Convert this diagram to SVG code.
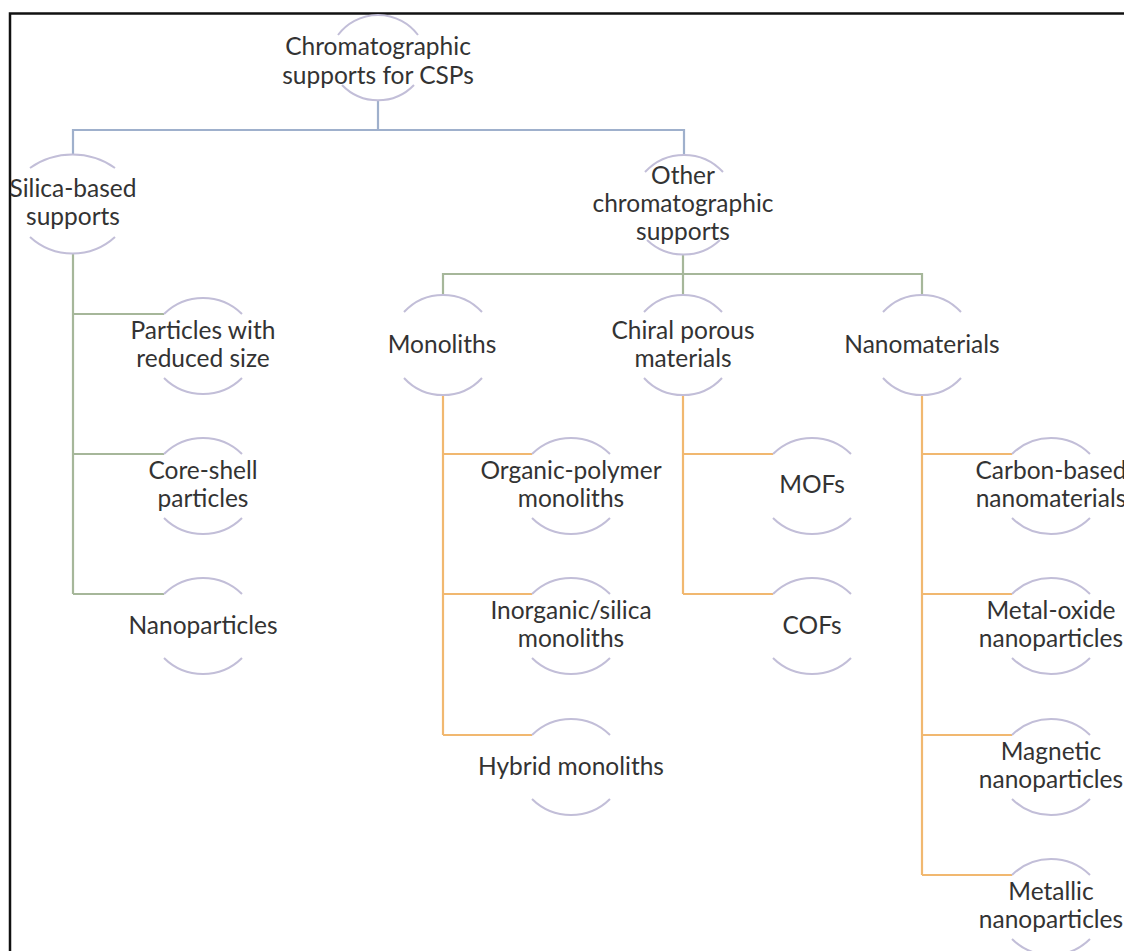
<svg xmlns="http://www.w3.org/2000/svg" width="1124" height="951" viewBox="0 0 1124 951">
<style>
.t{font-family:Lato,"Open Sans","Liberation Sans",sans-serif;font-size:24.5px;fill:#333333;text-anchor:middle}
.arc{fill:none;stroke:#c2bed8;stroke-width:2}
.cb{fill:none;stroke:#9fb0cc;stroke-width:2.2}
.cg{fill:none;stroke:#a6b79a;stroke-width:2.2}
.co{fill:none;stroke:#f1b870;stroke-width:2.2}
</style>
<rect width="1124" height="951" fill="#ffffff"/>
<path d="M10,951 V13.5 H1124" fill="none" stroke="#111" stroke-width="2.5"/>
<g id="connectors">
<path class="cb" d="M378,100 V130 M73,155 V130 H684 V155"/>
<path class="cg" d="M73,253 V594 M73,314 H164 M73,454 H164 M73,594 H164"/>
<path class="cg" d="M683,255 V295 M443,295 V274 H922 V295"/>
<path class="co" d="M443,395 V735 M443,454 H532 M443,594 H532 M443,735 H532"/>
<path class="co" d="M683,395 V594 M683,454 H773 M683,594 H773"/>
<path class="co" d="M922,395 V875 M922,454 H1012 M922,594 H1012 M922,735 H1012 M922,875 H1012"/>
</g>
<g id="root">
<path class="arc" d="M338,35 A50,50 0 0 1 418,35 M342,85 A50,50 0 0 0 414,85"/>
<text class="t"><tspan x="378" y="55">Chromatographic</tspan><tspan x="378" y="84">supports for CSPs</tspan></text>
</g>
<g id="silica">
<path class="arc" d="M30,168 A74,74 0 0 1 115,168 M30,237 A63,63 0 0 0 115,237"/>
<text class="t"><tspan x="73" y="197">Silica-based</tspan><tspan x="73" y="225">supports</tspan></text>
</g>
<g id="other">
<path class="arc" d="M645,172 A53,53 0 0 1 723,172 M647,240 A53,53 0 0 0 720,240"/>
<text class="t"><tspan x="683" y="184">Other</tspan><tspan x="683" y="212">chromatographic</tspan><tspan x="683" y="240">supports</tspan></text>
</g>
<g id="particles">
<path class="arc" d="M164,314 A55.5,55.5 0 0 1 242,314 M164,378 A55.5,55.5 0 0 0 242,378"/>
<text class="t"><tspan x="203" y="339">Particles with</tspan><tspan x="203" y="367">reduced size</tspan></text>
</g>
<g id="coreshell">
<path class="arc" d="M164,454 A55.5,55.5 0 0 1 242,454 M164,518 A55.5,55.5 0 0 0 242,518"/>
<text class="t"><tspan x="203" y="479">Core-shell</tspan><tspan x="203" y="507">particles</tspan></text>
</g>
<g id="nanoparticles">
<path class="arc" d="M164,594 A55.5,55.5 0 0 1 242,594 M164,658 A55.5,55.5 0 0 0 242,658"/>
<text class="t" x="203" y="634">Nanoparticles</text>
</g>
<g id="monoliths">
<path class="arc" d="M404,312 A53,53 0 0 1 482,312 M404,378 A53,53 0 0 0 482,378"/>
<text class="t" x="442" y="353">Monoliths</text>
</g>
<g id="chiral">
<path class="arc" d="M644,312 A53,53 0 0 1 722,312 M644,378 A53,53 0 0 0 722,378"/>
<text class="t"><tspan x="683" y="339">Chiral porous</tspan><tspan x="683" y="367">materials</tspan></text>
</g>
<g id="nanomaterials">
<path class="arc" d="M883,312 A53,53 0 0 1 961,312 M883,378 A53,53 0 0 0 961,378"/>
<text class="t" x="922" y="353">Nanomaterials</text>
</g>
<g id="organic">
<path class="arc" d="M532,454 A55.5,55.5 0 0 1 610,454 M532,518 A55.5,55.5 0 0 0 610,518"/>
<text class="t"><tspan x="571" y="479">Organic-polymer</tspan><tspan x="571" y="507">monoliths</tspan></text>
</g>
<g id="inorganic">
<path class="arc" d="M532,594 A55.5,55.5 0 0 1 610,594 M532,658 A55.5,55.5 0 0 0 610,658"/>
<text class="t"><tspan x="571" y="619">Inorganic/silica</tspan><tspan x="571" y="647">monoliths</tspan></text>
</g>
<g id="hybrid">
<path class="arc" d="M532,735 A55.5,55.5 0 0 1 610,735 M532,799 A55.5,55.5 0 0 0 610,799"/>
<text class="t" x="571" y="775">Hybrid monoliths</text>
</g>
<g id="mofs">
<path class="arc" d="M773,454 A55.5,55.5 0 0 1 851,454 M773,518 A55.5,55.5 0 0 0 851,518"/>
<text class="t" x="812" y="493">MOFs</text>
</g>
<g id="cofs">
<path class="arc" d="M773,594 A55.5,55.5 0 0 1 851,594 M773,658 A55.5,55.5 0 0 0 851,658"/>
<text class="t" x="812" y="634">COFs</text>
</g>
<g id="carbon">
<path class="arc" d="M1012,454 A55.5,55.5 0 0 1 1090,454 M1012,518 A55.5,55.5 0 0 0 1090,518"/>
<text class="t"><tspan x="1051" y="479">Carbon-based</tspan><tspan x="1051" y="507">nanomaterials</tspan></text>
</g>
<g id="metaloxide">
<path class="arc" d="M1012,594 A55.5,55.5 0 0 1 1090,594 M1012,658 A55.5,55.5 0 0 0 1090,658"/>
<text class="t"><tspan x="1051" y="619">Metal-oxide</tspan><tspan x="1051" y="647">nanoparticles</tspan></text>
</g>
<g id="magnetic">
<path class="arc" d="M1012,735 A55.5,55.5 0 0 1 1090,735 M1012,799 A55.5,55.5 0 0 0 1090,799"/>
<text class="t"><tspan x="1051" y="760">Magnetic</tspan><tspan x="1051" y="788">nanoparticles</tspan></text>
</g>
<g id="metallic">
<path class="arc" d="M1012,875 A55.5,55.5 0 0 1 1090,875 M1012,939 A55.5,55.5 0 0 0 1090,939"/>
<text class="t"><tspan x="1051" y="900">Metallic</tspan><tspan x="1051" y="928">nanoparticles</tspan></text>
</g>
</svg>
